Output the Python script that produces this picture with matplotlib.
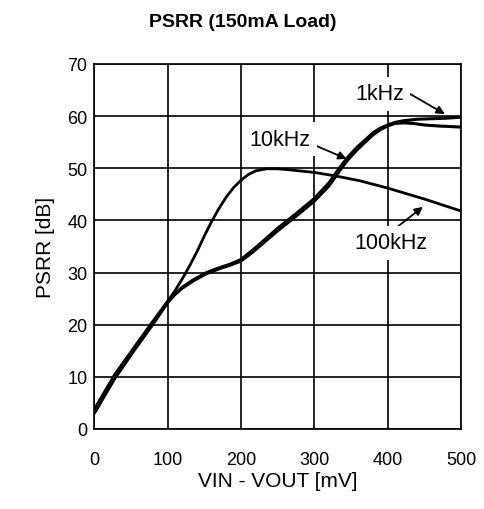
import numpy as np
from matplotlib import pyplot as plt

plt.rcParams['font.family'] = ['Liberation Sans', 'DejaVu Sans']

############# Data ############
x_1k = [0, 28, 55, 78, 100, 110, 120, 135, 153, 170, 185, 200, 215, 230, 250,
        276, 300, 320, 335, 345, 358, 370, 380, 390, 400, 410, 421, 440, 460,
        480, 500]
v_1k = [3.2, 10, 15.5, 20, 24.4, 25.9, 27.2, 28.6, 30.0, 30.9, 31.6, 32.5,
        34.2, 36.0, 38.5, 41.4, 44.2, 47.2, 50.2, 52.0, 54.0, 55.5, 56.8, 57.7,
        58.3, 58.8, 59.1, 59.4, 59.5, 59.6, 59.8]

x_10k = [0, 28, 55, 78, 100, 110, 120, 135, 153, 170, 185, 200, 215, 230, 250,
         276, 300, 320, 335, 345, 358, 370, 380, 390, 400, 410, 421, 435, 450,
         470, 500]
v_10k = [3.0, 9.7, 15.2, 19.7, 24.2, 25.8, 27.0, 28.4, 29.8, 30.7, 31.4, 32.2,
         33.8, 35.6, 38.0, 40.9, 43.7, 46.6, 49.6, 51.5, 53.5, 55.1, 56.4, 57.4,
         58.1, 58.6, 58.7, 58.6, 58.3, 58.1, 57.9]

x_100k = [0, 28, 55, 78, 100, 110, 120, 130, 140, 150, 160, 170, 180, 190,
          200, 210, 220, 235, 250, 266, 300, 330, 362, 400, 450, 500]
v_100k = [3.8, 10.5, 15.8, 20.3, 24.5, 26.5, 28.8, 31.3, 34.0, 37.0, 39.8,
          42.3, 44.5, 46.3, 47.7, 48.8, 49.5, 49.9, 49.9, 49.7, 49.2, 48.5,
          47.6, 46.2, 44.1, 41.8]

xticks = [0, 100, 200, 300, 400, 500]
yticks = [0, 10, 20, 30, 40, 50, 60, 70]
######################################################

fig = plt.figure(figsize=(4.85, 5.10), dpi=100)
ax = fig.add_axes([0.1944, 0.1569, 0.7561, 0.7157])

ax.plot(x_1k, v_1k, color='black', lw=2.2, solid_capstyle='round')
ax.plot(x_10k, v_10k, color='black', lw=2.2, solid_capstyle='round')
ax.plot(x_100k, v_100k, color='black', lw=2.0, solid_capstyle='round')

ax.set_xlim(0, 500)
ax.set_ylim(0, 70)
ax.set_xticks(xticks)
ax.set_yticks(yticks)
ax.grid(True, color='black', lw=1.2)
ax.set_axisbelow(True)
ax.tick_params(length=0, labelsize=13)
ax.tick_params(axis='x', pad=16)
ax.tick_params(axis='y', pad=5)
for s in ax.spines.values():
	s.set_linewidth(1.2)

ax.set_xlabel('VIN - VOUT [mV]', fontsize=15, labelpad=2)
ax.set_ylabel('PSRR [dB]', fontsize=15, labelpad=9)
fig.text(0.5, 0.955, 'PSRR (150mA Load)', ha='center', va='center',
         fontsize=14, fontweight='bold')

# annotations
arrow = dict(arrowstyle='-|>', color='black', lw=1.3, mutation_scale=12,
             shrinkA=0, shrinkB=0)
box = dict(boxstyle='square,pad=0.3', fc='white', ec='none')
ax.annotate('', xy=(478, 60.4), xytext=(430, 64.3), arrowprops=arrow)
ax.text(389, 64.3, '1kHz', ha='center', va='center', fontsize=15.5, bbox=box)
ax.annotate('', xy=(344, 51.8), xytext=(296, 54.7), arrowprops=arrow)
ax.text(253, 55.6, '10kHz', ha='center', va='center', fontsize=15.5, bbox=box)
ax.annotate('', xy=(448, 42.6), xytext=(410, 38.4), arrowprops=arrow)
ax.text(405, 35.7, '100kHz', ha='center', va='center', fontsize=15.5, bbox=box)

fig.savefig('out.png', dpi=100)
